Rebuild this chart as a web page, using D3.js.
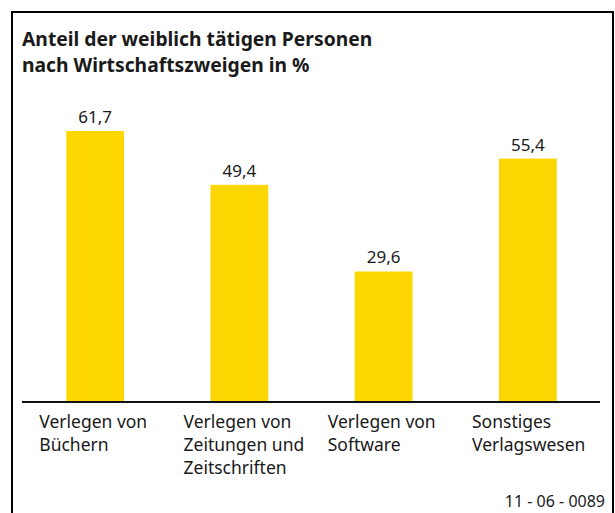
<!DOCTYPE html>
<html>
<head>
<meta charset="utf-8">
<script src="https://cdn.jsdelivr.net/npm/d3@7"></script>
<style>
  body { margin: 0; background: #fff; }
  text { font-family: "Noto Sans", sans-serif; fill: #1a1a1a; }
</style>
</head>
<body>
<div id="chart"></div>
<script>
"use strict";

// data
const categories = [
    ["Verlegen von", "Büchern"],
    ["Verlegen von", "Zeitungen und", "Zeitschriften"],
    ["Verlegen von", "Software"],
    ["Sonstiges", "Verlagswesen"]
];
const values = [61.7, 49.4, 29.6, 55.4];
const titleLines = ["Anteil der weiblich tätigen Personen", "nach Wirtschaftszweigen in %"];
const footerText = "11 - 06 - 0089";

const width = 615, height = 513;

const svg = d3.select("#chart")
  .append("svg")
    .attr("width", width)
    .attr("height", height);

// frame (no bottom edge)
svg.append("path")
    .attr("d", "M12,513 V12 H613 V513")
    .attr("fill", "none")
    .attr("stroke", "#000")
    .attr("stroke-width", 2);

// title
svg.append("text")
    .attr("x", 22)
    .attr("y", 46)
    .style("font-weight", "bold")
    .style("font-size", "19.3px")
  .selectAll("tspan")
  .data(titleLines)
  .join("tspan")
    .attr("x", 22)
    .attr("dy", (d, i) => i === 0 ? 0 : 26)
    .text(d => d);

// scales
const xScale = d3.scaleBand()
    .domain(d3.range(values.length))
    .range([23, 600])
    .paddingInner(0.6)
    .paddingOuter(0.3);

const yScale = d3.scaleLinear()
    .domain([0, 70])
    .range([401, 401 - 70 * 4.376]);

// bars
svg.selectAll("rect.bar")
  .data(values)
  .join("rect")
    .attr("class", "bar")
    .attr("x", (d, i) => xScale(i))
    .attr("y", d => yScale(d))
    .attr("width", xScale.bandwidth())
    .attr("height", d => yScale(0) - yScale(d))
    .attr("fill", "#ffd700");

// value labels
svg.selectAll("text.val")
  .data(values)
  .join("text")
    .attr("class", "val")
    .attr("x", (d, i) => xScale(i) + xScale.bandwidth() / 2)
    .attr("y", d => yScale(d) - 8)
    .attr("text-anchor", "middle")
    .style("font-size", "17px")
    .text(d => d.toFixed(1).replace(".", ","));

// baseline
svg.append("line")
    .attr("x1", 22)
    .attr("x2", 600)
    .attr("y1", yScale(0) + 1)
    .attr("y2", yScale(0) + 1)
    .attr("stroke", "#111")
    .attr("stroke-width", 2);

// category labels
svg.selectAll("text.cat")
  .data(categories)
  .join("text")
    .attr("class", "cat")
    .attr("y", 428)
    .style("font-size", "17.5px")
  .selectAll("tspan")
  .data((d, i) => d.map(line => ({line, i})))
  .join("tspan")
    .attr("x", d => xScale(d.i) - 27)
    .attr("dy", (d, j) => j === 0 ? 0 : 23)
    .text(d => d.line);

// footer
svg.append("text")
    .attr("x", 605)
    .attr("y", 507)
    .attr("text-anchor", "end")
    .style("font-size", "16px")
    .text(footerText);
</script>
</body>
</html>
